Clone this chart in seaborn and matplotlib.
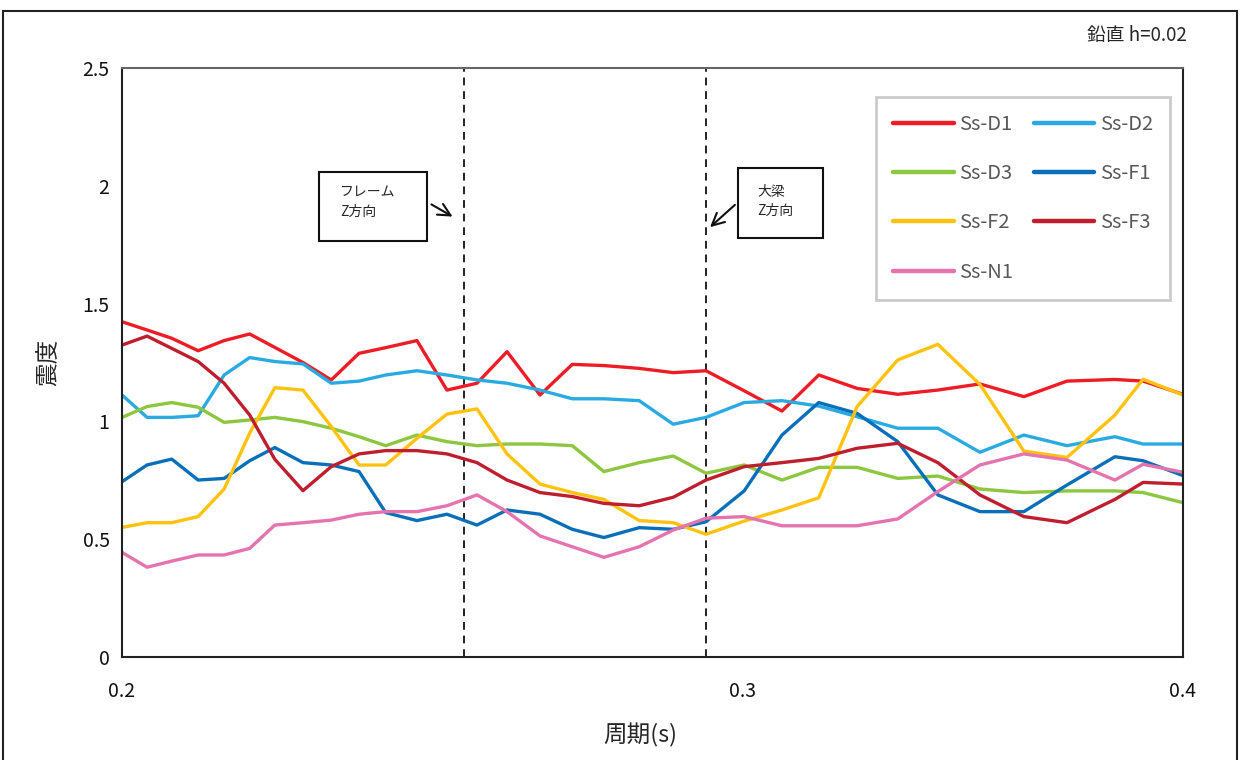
import numpy as np
import pandas as pd
import matplotlib
matplotlib.use("Agg")
import matplotlib.pyplot as plt
import seaborn as sns
from matplotlib.patches import Rectangle
from matplotlib.ticker import FixedLocator, NullLocator, FixedFormatter

# ---------------- data ----------------
periods = [0.2000, 0.2033, 0.2066, 0.2102, 0.2138, 0.2174, 0.2210, 0.2251, 0.2293,
           0.2335, 0.2376, 0.2425, 0.2473, 0.2522, 0.2572, 0.2628, 0.2684, 0.2740,
           0.2804, 0.2867, 0.2929, 0.3003, 0.3078, 0.3153, 0.3233, 0.3320, 0.3408,
           0.3503, 0.3605, 0.3708, 0.3826, 0.3897, 0.4000]

ss_d1 = [1.423, 1.388, 1.353, 1.300, 1.343, 1.371, 1.314, 1.250, 1.176, 1.289, 1.313,
         1.343, 1.133, 1.162, 1.296, 1.112, 1.242, 1.237, 1.225, 1.207, 1.215, 1.130,
         1.044, 1.197, 1.140, 1.115, 1.133, 1.159, 1.105, 1.171, 1.178, 1.171, 1.115]
ss_d2 = [1.112, 1.017, 1.017, 1.024, 1.197, 1.271, 1.254, 1.244, 1.162, 1.171, 1.197,
         1.215, 1.197, 1.176, 1.162, 1.133, 1.096, 1.096, 1.088, 0.988, 1.017, 1.080,
         1.088, 1.065, 1.020, 0.971, 0.971, 0.869, 0.942, 0.897, 0.935, 0.904, 0.904]
ss_d3 = [1.017, 1.063, 1.080, 1.060, 0.996, 1.006, 1.017, 0.999, 0.971, 0.935, 0.897,
         0.942, 0.914, 0.897, 0.904, 0.904, 0.897, 0.787, 0.825, 0.853, 0.780, 0.815,
         0.751, 0.805, 0.805, 0.758, 0.768, 0.713, 0.698, 0.705, 0.705, 0.698, 0.655]
ss_f1 = [0.744, 0.815, 0.840, 0.751, 0.758, 0.833, 0.889, 0.825, 0.815, 0.787, 0.613,
         0.579, 0.606, 0.560, 0.624, 0.606, 0.542, 0.507, 0.549, 0.542, 0.574, 0.705,
         0.942, 1.080, 1.034, 0.914, 0.688, 0.617, 0.617, 0.730, 0.850, 0.833, 0.770]
ss_f2 = [0.550, 0.570, 0.570, 0.596, 0.713, 0.950, 1.143, 1.133, 0.978, 0.815, 0.815,
         0.928, 1.031, 1.053, 0.862, 0.734, 0.698, 0.669, 0.579, 0.570, 0.521, 0.577,
         0.624, 0.676, 1.063, 1.261, 1.327, 1.157, 0.874, 0.847, 1.027, 1.179, 1.112]
ss_f3 = [1.324, 1.362, 1.310, 1.254, 1.162, 1.027, 0.839, 0.706, 0.808, 0.862, 0.876,
         0.876, 0.862, 0.825, 0.751, 0.698, 0.681, 0.652, 0.642, 0.678, 0.751, 0.808,
         0.825, 0.843, 0.886, 0.907, 0.825, 0.688, 0.596, 0.570, 0.669, 0.741, 0.734]
ss_n1 = [0.444, 0.381, 0.407, 0.433, 0.433, 0.461, 0.560, 0.570, 0.581, 0.606, 0.617,
         0.617, 0.642, 0.688, 0.617, 0.514, 0.468, 0.423, 0.468, 0.539, 0.589, 0.596,
         0.557, 0.557, 0.557, 0.586, 0.702, 0.815, 0.862, 0.836, 0.751, 0.818, 0.784]

series_names = ["Ss-D1", "Ss-D2", "Ss-D3", "Ss-F1", "Ss-F2", "Ss-F3", "Ss-N1"]
series_values = [ss_d1, ss_d2, ss_d3, ss_f1, ss_f2, ss_f3, ss_n1]
colors = ["#EE1C25", "#29ABE2", "#8DC63F", "#0A6FB9", "#FFC20E", "#BE1E2D", "#E573AE"]

y_ticks = [0, 0.5, 1, 1.5, 2, 2.5]
y_tick_labels = ["0", "0.5", "1", "1.5", "2", "2.5"]
x_ticks = [0.2, 0.3, 0.4]
x_tick_labels = ["0.2", "0.3", "0.4"]
marker_periods = [0.25, 0.2929]
annot_texts = ["フレーム\nZ方向", "大梁\nZ方向"]

# ---------------- build long-form table ----------------
rows = []
for name, vals in zip(series_names, series_values):
    for t, v in zip(periods, vals):
        rows.append({"period": t, "value": v, "series": name})
df = pd.DataFrame(rows)

sns.set_theme(style="white")
plt.rcParams["font.family"] = ["Noto Sans CJK JP", "DejaVu Sans"]

W, H = 1240, 760
fig = plt.figure(figsize=(W / 100, H / 100), dpi=100)
ax = fig.add_axes([122 / W, 1 - 657 / H, (1183 - 122) / W, (657 - 68) / H])

sns.lineplot(data=df, x="period", y="value", hue="series", hue_order=series_names,
             palette=dict(zip(series_names, colors)), estimator=None, sort=False,
             linewidth=2.4, ax=ax)

ax.set_xscale("log")
ax.set_xlim(0.2, 0.4)
ax.set_ylim(0, 2.5)
ax.xaxis.set_major_locator(FixedLocator(x_ticks))
ax.xaxis.set_major_formatter(FixedFormatter(x_tick_labels))
ax.xaxis.set_minor_locator(NullLocator())
ax.set_yticks(y_ticks)
ax.set_yticklabels(y_tick_labels)
ax.tick_params(axis="y", direction="in", length=6, width=1.3, colors="#222222",
               labelsize=14, pad=9, labelcolor="#111111")
ax.tick_params(axis="x", direction="in", length=4, width=1.0, colors="#222222",
               labelsize=14, pad=17, labelcolor="#111111")

for side, sp in ax.spines.items():
    sp.set_visible(True)
    sp.set_color("#222222")
    sp.set_linewidth(1.5)
ax.spines["top"].set_color("#666666")

ax.set_xlabel("周期(s)", fontsize=17)
ax.set_ylabel("震度", fontsize=17)
ax.xaxis.set_label_coords((640 - 122) / 1061, (657 - 723) / 589)
ax.yaxis.set_label_coords((60 - 122) / 1061, 0.5)

for p in marker_periods:
    ax.axvline(p, color="#222222", lw=1.4, ls=(0, (4, 3)), zorder=1)

# legend in row-major order (matplotlib fills columns first)
handles, labels = ax.get_legend_handles_labels()
order = [0, 2, 4, 6, 1, 3, 5]
leg = ax.legend([handles[i] for i in order], [labels[i] for i in order],
                ncol=2, loc="upper right", bbox_to_anchor=(0.988, 0.951),
                borderaxespad=0.0,
                fontsize=14.5, handlelength=3.0, handletextpad=0.3, labelspacing=1.4,
                columnspacing=1.0, borderpad=0.85, frameon=True, fancybox=False)
leg.get_frame().set_edgecolor("#BFBFBF")
leg.get_frame().set_linewidth(2)
for txt in leg.get_texts():
    txt.set_color("#595959")
for ln in leg.get_lines():
    ln.set_linewidth(3.2)
    ln.set_solid_capstyle("round")

# annotation boxes (figure pixel coordinates, y measured from top)
def box(x0, y0, x1, y1):
    fig.add_artist(Rectangle((x0 / W, 1 - y1 / H), (x1 - x0) / W, (y1 - y0) / H,
                             transform=fig.transFigure, fill=True, facecolor="white",
                             edgecolor="#111111", lw=1.5, zorder=5))

box(319, 172, 427, 241)
fig.text(340 / W, 1 - 202 / H, annot_texts[0], fontsize=10, ha="left", va="center",
         linespacing=1.45, zorder=6)
box(738, 168, 823, 238)
fig.text(757 / W, 1 - 201 / H, annot_texts[1], fontsize=10, ha="left", va="center",
         linespacing=1.45, zorder=6)

ax.annotate("", xy=(455, H - 218), xytext=(429, H - 203), xycoords="figure pixels",
            textcoords="figure pixels",
            arrowprops=dict(arrowstyle="->", lw=1.5, color="#111111", mutation_scale=22))
ax.annotate("", xy=(708, H - 229), xytext=(737, H - 203), xycoords="figure pixels",
            textcoords="figure pixels",
            arrowprops=dict(arrowstyle="->", lw=1.5, color="#111111", mutation_scale=22))

fig.text(1187 / W, 1 - 36 / H, "鉛直 h=0.02", fontsize=13.5, ha="right", va="center")

# outer frame
fig.add_artist(Rectangle((3 / W, -0.05), (1237 - 3) / W, 1 - 11 / H + 0.05,
                         transform=fig.transFigure, fill=False, edgecolor="#222222",
                         lw=1.5, clip_on=False))

fig.savefig("out.png", dpi=100)
